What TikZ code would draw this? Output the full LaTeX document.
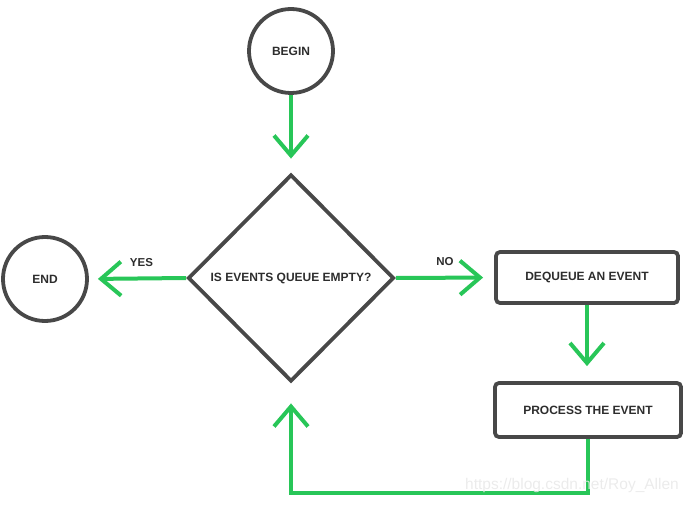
\documentclass[tikz,border=0pt]{standalone}
\usepackage{fontspec}
\setmainfont{Liberation Sans}
\usetikzlibrary{shapes.geometric,arrows.meta}
\definecolor{flowgreen}{RGB}{40,198,88}
\definecolor{edgegray}{RGB}{72,72,72}
\definecolor{txtgray}{RGB}{45,45,45}
\tikzset{
  lbl/.style={font=\fontsize{12}{14}\selectfont\bfseries, text=txtgray},
  roundnode/.style={circle, draw=edgegray, line width=3.8pt, minimum size=84pt, inner sep=0pt, lbl},
  boxnode/.style={rectangle, rounded corners=4pt, draw=edgegray, line width=3.8pt, inner sep=0pt, lbl},
  decision/.style={diamond, draw=edgegray, line width=3.8pt, minimum width=206pt, minimum height=207pt, inner sep=0pt, lbl},
  flow/.style={draw=flowgreen, line width=4pt, -{Straight Barb[length=20pt,width=34pt,line width=4pt]}},
  edgelbl/.style={lbl, font=\fontsize{11.5}{13}\selectfont\bfseries},
}
\begin{document}
\begin{tikzpicture}[x=1pt,y=-1pt]
\useasboundingbox (0,0) rectangle (690,505);
\node[roundnode] (begin) at (291,51) {BEGIN};
\node[roundnode] (end) at (45,279) {END};
\node[decision] (dia) at (291,278) {IS EVENTS QUEUE EMPTY?};
\node[boxnode, minimum width=182pt, minimum height=51pt] (deq) at (587,277.5) {DEQUEUE AN EVENT};
\node[boxnode, minimum width=186pt, minimum height=54pt] (proc) at (588,410) {PROCESS THE EVENT};
\draw[flow, shorten >=14pt] (begin) -- (dia.north);
\draw[flow, shorten >=9pt] (dia.west) -- (end.east) node[midway, above=7pt, xshift=4pt, edgelbl] (yes) {YES};
\draw[flow, shorten >=11pt] (dia.east) -- (deq.west) node[midway, above=7pt, edgelbl] (no) {NO};
\draw[flow, shorten >=15pt] (deq.south) -- (deq.south |- proc.north);
\coordinate (turn) at (0,493);
\draw[flow, shorten >=20pt] (proc.south) -- (proc.south |- turn) -| (dia.south);
\node[text=white!82!gray, opacity=0.85, font=\fontsize{15.5}{17}\selectfont] (wm) at (572,485) {https://blog.csdn.net/Roy\_Allen};
\end{tikzpicture}
\end{document}
